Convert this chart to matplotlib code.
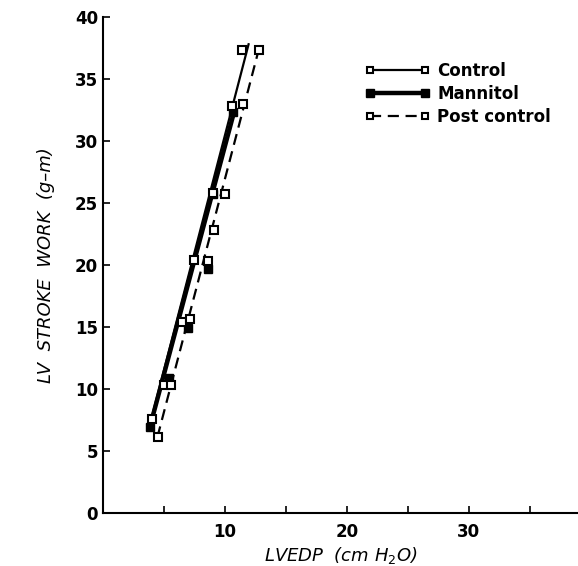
import matplotlib
matplotlib.use("Agg")
import matplotlib.pyplot as plt

# values
control_x = [4.0, 5.05, 6.5, 7.5, 9.0, 10.6, 11.4]
control_y = [7.6, 10.3, 15.4, 20.4, 25.8, 32.8, 37.3]

mannitol_x = [3.85, 5.45, 7.0, 8.6, 9.0, 10.7]
mannitol_y = [6.9, 10.9, 14.9, 19.7, 25.7, 32.3]

post_x = [4.5, 5.6, 7.15, 8.6, 9.15, 10.0, 11.5, 12.8]
post_y = [6.1, 10.3, 15.6, 20.3, 22.8, 25.7, 33.0, 37.3]

# fitted lines (end points as drawn in the figure)
control_fit_x = [3.95, 11.95]
control_fit_y = [7.5, 37.8]
mannitol_fit_x = [3.85, 10.75]
mannitol_fit_y = [6.9, 32.3]
post_fit_x = [4.47, 12.9]
post_fit_y = [6.1, 37.8]

x_ticks = [5, 10, 15, 20, 25, 30, 35]
x_labels = ['', '10', '', '20', '', '30', '']
y_ticks = [0, 5, 10, 15, 20, 25, 30, 35, 40]

plt.rcParams['font.family'] = ['DejaVu Sans']

fig = plt.figure(figsize=(5.78, 5.66), dpi=100)
ax = fig.add_axes([0.178, 0.094, 0.822, 0.876])

ax.plot(control_fit_x, control_fit_y, color='black', lw=1.6, zorder=2)
ax.plot(control_x, control_y, 's', ms=5.5, mfc='white', mec='black', mew=1.5, zorder=4)

ax.plot(mannitol_fit_x, mannitol_fit_y, color='black', lw=3.2, zorder=2)
ax.plot(mannitol_x, mannitol_y, 's', ms=6, mfc='black', mec='black', zorder=3)

ax.plot(post_fit_x, post_fit_y, color='black', lw=1.6, ls=(0, (5, 3)), zorder=2)
ax.plot(post_x, post_y, 's', ms=5.5, mfc='white', mec='black', mew=1.5, zorder=4)

# legend handles
h1, = ax.plot([], [], '-s', color='black', lw=1.6, ms=5, mfc='white', mew=1.5)
h2, = ax.plot([], [], '-s', color='black', lw=3.2, ms=5.5, mfc='black')
h3, = ax.plot([], [], 's', color='black', ls=(0, (5, 3)), lw=1.6, ms=5, mfc='white', mew=1.5)
leg = ax.legend([h1, h2, h3], ['Control', 'Mannitol', 'Post control'],
                loc='upper left', bbox_to_anchor=(0.52, 0.94), frameon=False,
                numpoints=2, handlelength=3.9, handletextpad=0.45, labelspacing=0.3,
                prop={'weight': 'bold', 'size': 12})

ax.set_xlim(0, 38.97)
ax.set_ylim(0, 40)
ax.set_xticks(x_ticks)
ax.set_xticklabels(x_labels)
ax.set_yticks(y_ticks)
ax.tick_params(direction='in', length=5, width=1.2, labelsize=12)
ax.tick_params(axis='x', pad=7)
for lab in ax.get_xticklabels() + ax.get_yticklabels():
    lab.set_fontweight('bold')

ax.spines['top'].set_visible(False)
ax.spines['right'].set_visible(False)
ax.spines['left'].set_linewidth(1.5)
ax.spines['bottom'].set_linewidth(1.5)

ax.set_xlabel(r'LVEDP  (cm H$_2$O)', fontsize=13, style='italic', labelpad=3)
ax.set_ylabel('LV  STROKE  WORK  (g\u2013m)', fontsize=13, style='italic', labelpad=14)

fig.savefig('out.png', dpi=100)
